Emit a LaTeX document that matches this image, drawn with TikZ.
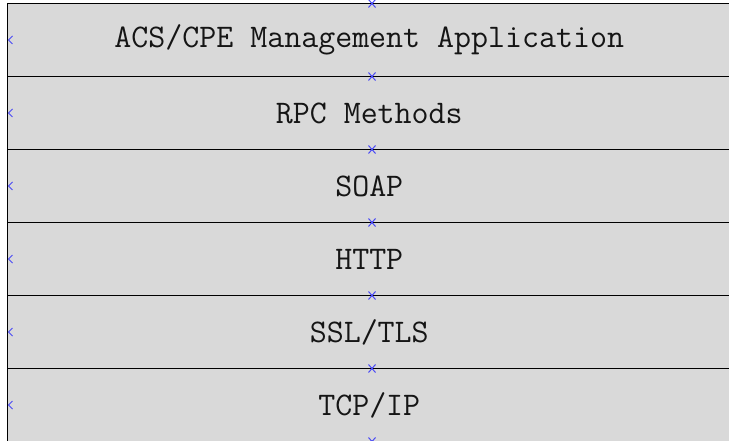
\documentclass[tikz,border=0pt]{standalone}
\usepackage{fontspec}
\definecolor{layergray}{HTML}{D9D9D9}
\definecolor{markblue}{HTML}{4A4AF5}
\definecolor{textdark}{HTML}{151515}
\begin{document}
\begin{tikzpicture}[x=1pt,y=1pt,
  layer/.style={draw=black, line width=1.6pt, fill=layergray,
    minimum width=723.5pt, minimum height=73pt, inner sep=0pt,
    font=\ttfamily\fontsize{33}{33}\selectfont, text=textdark},
  cpmark/.style={draw=markblue, line width=1pt}]
\useasboundingbox (0,0) rectangle (729,440);
\node[layer] (app)  at (369.25,400) {ACS/CPE Management Application};
\node[layer] (rpc)  at (369.25,327) {RPC Methods};
\node[layer] (soap) at (369.25,254) {SOAP};
\node[layer] (http) at (369.25,181) {HTTP};
\node[layer] (ssl)  at (369.25,108) {SSL/TLS};
\node[layer] (tcp)  at (369.25,35)  {TCP/IP};
% connection point markers (top centre of each layer)
\foreach \y in {436.5,363.5,290.5,217.5,144.5,71.5,-1.5}{
  \draw[cpmark] (368.5,\y-4) -- (375.5,\y+4) (368.5,\y+4) -- (375.5,\y-4);
}
% connection point markers (left side, half visible)
\foreach \y in {400,327,254,181,108,35}{
  \draw[cpmark] (12.5,\y+4) -- (8.5,\y) -- (12.5,\y-4);
}
\end{tikzpicture}
\end{document}
